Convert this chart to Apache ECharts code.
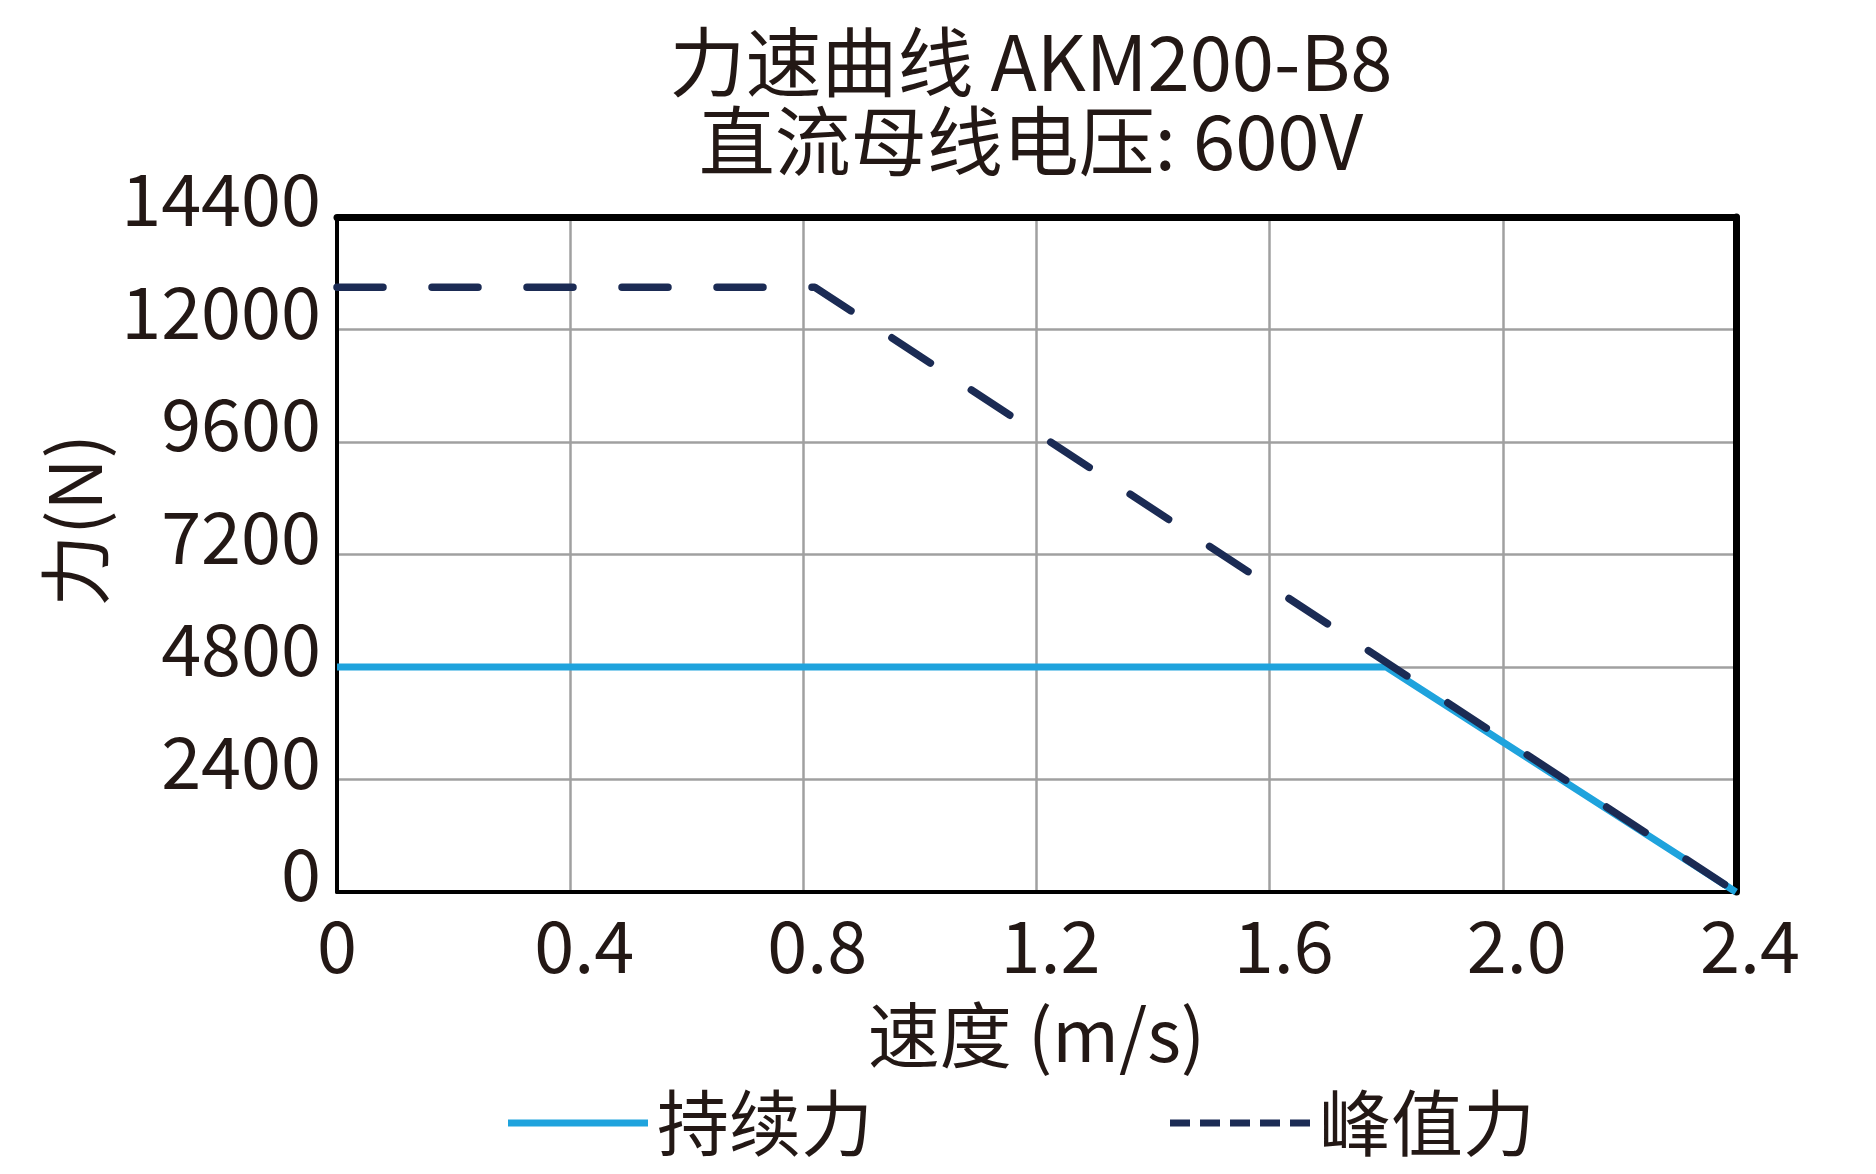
<!DOCTYPE html>
<html>
<head>
<meta charset="utf-8">
<title>力速曲线 AKM200-B8</title>
<script src="https://cdn.jsdelivr.net/npm/echarts@6/dist/echarts.min.js"></script>
<style>
html, body { margin: 0; padding: 0; background: #fff; }
#myChart { width: 1876px; height: 1174px; }
</style>
</head>
<body>
<div id="myChart"></div>
<script>
// 数据
var xTickLabels = ['0', '0.4', '0.8', '1.2', '1.6', '2.0', '2.4'];
var yTickLabels = ['0', '2400', '4800', '7200', '9600', '12000', '14400'];
// 持续力 [速度, 力]
var continuousData = [[0, 4800], [1.8, 4800], [2.4, 0]];
// 峰值力 [速度, 力]
var peakData = [[0, 12900], [0.82, 12900], [2.4, 0]];

var textColor = '#231815';
var cjkFont = '"Noto Sans CJK SC", "Noto Sans", sans-serif';

var myChart = echarts.init(document.getElementById('myChart'));
var option = {
    backgroundColor: '#fff',
    animation: false,
    title: {
        text: '力速曲线 AKM200-B8\n直流母线电压: 600V',
        left: 1026,
        top: 18,
        textAlign: 'center',
        textStyle: {
            color: textColor,
            fontFamily: cjkFont,
            fontWeight: 'normal',
            fontSize: 76,
            lineHeight: 79
        }
    },
    grid: {
        left: 337,
        right: 140,
        top: 217,
        bottom: 282
    },
    legend: {
        left: 503,
        top: 1078,
        itemWidth: 140,
        itemHeight: 7,
        itemGap: 297,
        textStyle: {
            color: textColor,
            fontFamily: cjkFont,
            fontSize: 72,
            lineHeight: 80,
            padding: [0, 0, 0, 4]
        },
        data: [
            { name: '持续力', icon: 'path://M0,0H140V7H0Z' },
            { name: '峰值力', icon: 'path://M0,0H20V7H0Z M30,0H50V7H30Z M60,0H80V7H60Z M90,0H110V7H90Z M120,0H140V7H120Z' }
        ]
    },
    xAxis: [{
        type: 'value',
        position: 'bottom',
        min: 0,
        max: 2.4,
        interval: 0.4,
        name: '速度 (m/s)',
        nameLocation: 'middle',
        nameGap: 107,
        nameTextStyle: {
            color: textColor,
            fontFamily: cjkFont,
            fontSize: 72
        },
        axisLine: { show: true, onZero: false, lineStyle: { color: '#000', width: 4 } },
        axisTick: { show: false },
        axisLabel: {
            margin: 18,
            formatter: function (value, index) {
                var label = xTickLabels[index];
                return index === 0 ? '{z|' + label + '}' : '{n|' + label + '}';
            },
            rich: {
                z: { color: textColor, fontFamily: cjkFont, fontSize: 72 },
                n: { color: textColor, fontFamily: cjkFont, fontSize: 72, padding: [0, 0, 0, 28] }
            }
        },
        splitLine: { show: true, lineStyle: { color: '#a0a0a0', width: 2.5 } }
    }, {
        type: 'value',
        position: 'top',
        min: 0,
        max: 2.4,
        interval: 0.4,
        axisLine: { show: true, onZero: false, lineStyle: { color: '#000', width: 7 } },
        axisTick: { show: false },
        axisLabel: { show: false },
        splitLine: { show: false }
    }],
    yAxis: [{
        type: 'value',
        position: 'left',
        min: 0,
        max: 14400,
        interval: 2400,
        name: '力(N)',
        nameLocation: 'middle',
        nameGap: 219,
        nameTextStyle: {
            color: textColor,
            fontFamily: cjkFont,
            fontSize: 72,
            padding: [0, 0, 0, 68]
        },
        axisLine: { show: true, onZero: false, lineStyle: { color: '#000', width: 4 } },
        axisTick: { show: false },
        axisLabel: {
            margin: 16,
            color: textColor,
            fontFamily: cjkFont,
            fontSize: 72,
            lineHeight: 36,
            verticalAlign: 'bottom',
            formatter: function (value, index) {
                return yTickLabels[index];
            }
        },
        splitLine: { show: true, lineStyle: { color: '#a0a0a0', width: 2.5 } }
    }, {
        type: 'value',
        position: 'right',
        min: 0,
        max: 14400,
        interval: 2400,
        axisLine: { show: true, onZero: false, lineStyle: { color: '#000', width: 7 } },
        axisTick: { show: false },
        axisLabel: { show: false },
        splitLine: { show: false }
    }],
    series: [{
        name: '持续力',
        type: 'line',
        data: continuousData,
        symbol: 'none',
        color: '#1fa3dd',
        lineStyle: { color: '#1fa3dd', width: 7 },
        z: 3
    }, {
        name: '峰值力',
        type: 'line',
        data: peakData,
        symbol: 'none',
        color: '#1b2b54',
        lineStyle: { color: '#1b2b54', width: 7.5, type: [46, 49], cap: 'round' },
        z: 4
    }]
};

myChart.setOption(option);
</script>
</body>
</html>
